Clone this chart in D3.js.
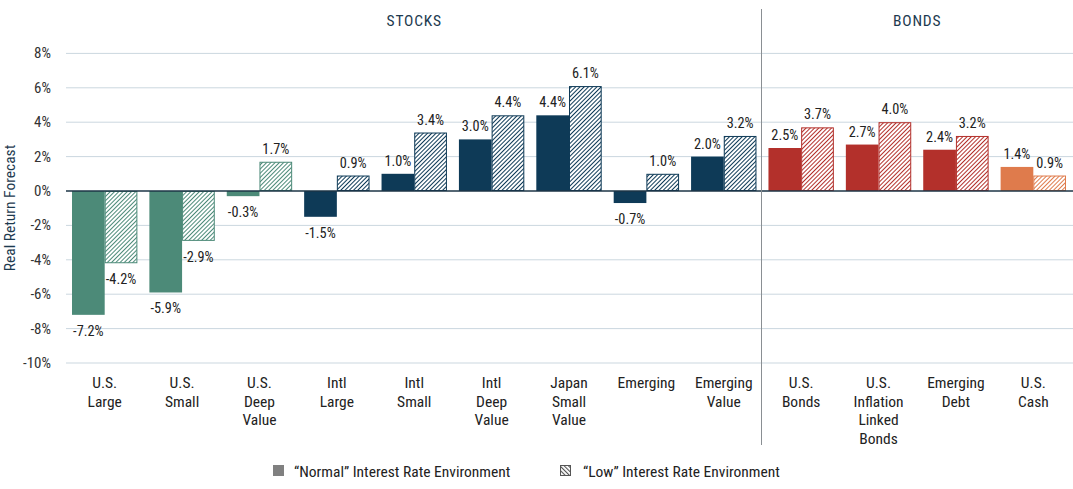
<!DOCTYPE html>
<html><head><meta charset="utf-8">
<script src="https://cdn.jsdelivr.net/npm/d3@7"></script>
<style>
body{margin:0;background:#fff;}
text{font-family:"Liberation Sans Narrow","Roboto Condensed",Roboto,sans-serif;}
</style></head>
<body>
<svg id="c" width="1073" height="489"></svg>
<script>
const categories = [["U.S.","Large"],["U.S.","Small"],["U.S.","Deep","Value"],["Intl","Large"],["Intl","Small"],["Intl","Deep","Value"],["Japan","Small","Value"],["Emerging"],["Emerging","Value"],["U.S.","Bonds"],["U.S.","Inflation","Linked","Bonds"],["Emerging","Debt"],["U.S.","Cash"]];
const normalValues = [-7.2,-5.9,-0.3,-1.5,1.0,3.0,4.4,-0.7,2.0,2.5,2.7,2.4,1.4];
const lowValues = [-4.2,-2.9,1.7,0.9,3.4,4.4,6.1,1.0,3.2,3.7,4.0,3.2,0.9];
const groups = ["green","green","green","navy","navy","navy","navy","navy","navy","red","red","red","orange"];
const yTicks = [8,6,4,2,0,-2,-4,-6,-8,-10];
const sections = [{name:"STOCKS",from:0,to:8},{name:"BONDS",from:9,to:12}];
const seriesNames = ["\u201cNormal\u201d Interest Rate Environment","\u201cLow\u201d Interest Rate Environment"];

const colors = {green:"#4c8a78",navy:"#0e3a57",red:"#b3302b",orange:"#df7b4c"};
const svg = d3.select("#c");
const left = 66, right = 1072;
const x = d3.scaleBand().domain(d3.range(categories.length)).range([left,right]).padding(0);
const y = d3.scaleLinear().domain([-10,8]).range([363,53.4]);
const inner = d3.scaleBand().domain([0,1]).range([6, x.bandwidth()-6]).padding(0);

const defs = svg.append("defs");
Object.entries(colors).forEach(([k,c])=>{
  const p = defs.append("pattern").attr("id","h-"+k).attr("patternUnits","userSpaceOnUse")
    .attr("width",3).attr("height",3).attr("patternTransform","rotate(45)");
  p.append("rect").attr("width",3).attr("height",3).attr("fill","#fff");
  p.append("line").attr("x1",0.5).attr("y1",0).attr("x2",0.5).attr("y2",3).attr("stroke",c).attr("stroke-width",1);
});
const lp = defs.append("pattern").attr("id","h-legend").attr("patternUnits","userSpaceOnUse")
  .attr("width",3).attr("height",3).attr("patternTransform","rotate(-45)");
lp.append("rect").attr("width",3).attr("height",3).attr("fill","#fff");
lp.append("line").attr("x1",0.5).attr("y1",0).attr("x2",0.5).attr("y2",3).attr("stroke","#555").attr("stroke-width",1.2);

// gridlines
svg.append("g").selectAll("line").data(yTicks.filter(d=>d!==0)).join("line")
  .attr("x1",left).attr("x2",1073).attr("y1",d=>y(d)).attr("y2",d=>y(d))
  .attr("stroke","#cbd7df").attr("stroke-width",1);
// y tick labels
svg.append("g").selectAll("text").data(yTicks).join("text")
  .attr("x",51).attr("y",d=>y(d)+5).attr("text-anchor","end")
  .attr("font-size",15).attr("fill","#333").text(d=>d+"%");
svg.append("text").attr("transform","translate(15,208) rotate(-90)")
  .attr("text-anchor","middle").attr("font-size",15.5).attr("fill","#1d3a4f").text("Real Return Forecast");

// bars
const g = svg.append("g");
categories.forEach((c,i)=>{
  const x0 = x(i);
  const col = colors[groups[i]];
  const vals = [normalValues[i], lowValues[i]];
  vals.forEach((v,j)=>{
    const bx = x0 + inner(j), bw = inner.bandwidth();
    const top = y(Math.max(0,v)), bot = y(Math.min(0,v));
    if (j===0) {
      g.append("rect").attr("x",bx).attr("y",top).attr("width",bw).attr("height",bot-top).attr("fill",col);
    } else {
      g.append("rect").attr("x",bx+0.5).attr("y",top+0.5).attr("width",bw-1).attr("height",Math.max(0,bot-top-1))
        .attr("fill","url(#h-"+groups[i]+")").attr("stroke",col).attr("stroke-width",1);
    }
    g.append("text").attr("x",bx+bw/2).attr("y", v>=0 ? top-8 : bot+21)
      .attr("text-anchor","middle").attr("font-size",14.3).attr("fill","#222")
      .text(v.toFixed(1)+"%");
  });
  const t = svg.append("text").attr("text-anchor","middle").attr("font-size",15.5).attr("fill","#222");
  c.forEach((line,k)=>{
    t.append("tspan").attr("x",x0+x.bandwidth()/2).attr("y",388+k*18.5).text(line);
  });
});

// zero line
svg.append("line").attr("x1",left).attr("x2",1073).attr("y1",y(0)).attr("y2",y(0))
  .attr("stroke","#1d3446").attr("stroke-width",1.3);

// section divider & headers
svg.append("line").attr("x1",761.5).attr("x2",761.5).attr("y1",9).attr("y2",445)
  .attr("stroke","#8a8f93").attr("stroke-width",1);
sections.forEach(s=>{
  const cx = (x(s.from) + x(s.to)+x.bandwidth())/2;
  svg.append("text").attr("x",cx).attr("y",26).attr("text-anchor","middle")
    .attr("font-size",15.5).attr("fill","#1d3a4f").attr("letter-spacing",0.8).text(s.name);
});

// legend
const lg = svg.append("g");
lg.append("rect").attr("x",273).attr("y",465).attr("width",11).attr("height",11).attr("fill","#808080");
lg.append("text").attr("x",294).attr("y",477).attr("font-size",15.5).attr("fill","#222").text(seriesNames[0]);
lg.append("rect").attr("x",560.5).attr("y",465.5).attr("width",10).attr("height",10).attr("fill","url(#h-legend)").attr("stroke","#555");
lg.append("text").attr("x",583).attr("y",477).attr("font-size",15.5).attr("fill","#222").text(seriesNames[1]);
</script>
</body></html>
